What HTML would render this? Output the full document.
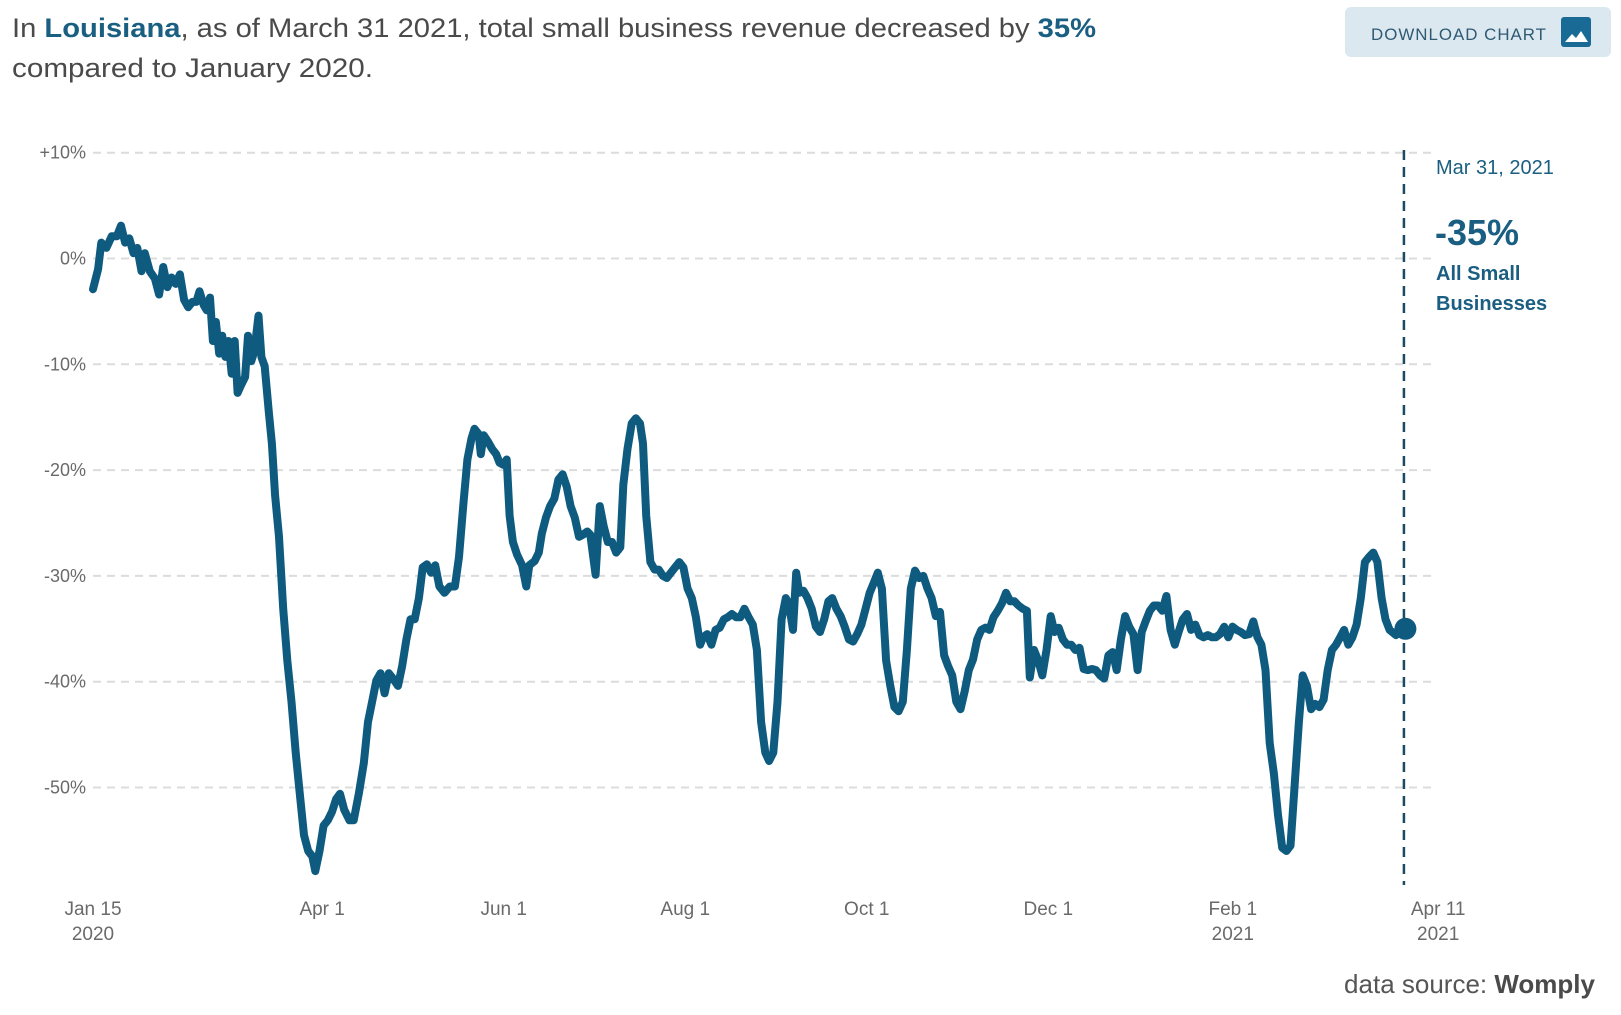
<!DOCTYPE html>
<html><head><meta charset="utf-8">
<style>
html,body{margin:0;padding:0;background:#fff;}
svg{display:block;font-family:"Liberation Sans",sans-serif;}
</style></head>
<body>
<svg id="chart" width="1621" height="1015" viewBox="0 0 1621 1015">
  <text x="12" y="37" font-size="27" fill="#4a4a4a" textLength="1084" lengthAdjust="spacingAndGlyphs">In <tspan font-weight="bold" fill="#1a5f82">Louisiana</tspan>, as of March 31 2021, total small business revenue decreased by <tspan font-weight="bold" fill="#1a5f82">35%</tspan></text>
  <text x="12" y="77" font-size="27" fill="#4a4a4a" textLength="361" lengthAdjust="spacingAndGlyphs">compared to January 2020.</text>

  <g>
    <rect x="1345" y="7" width="266" height="50" rx="6" fill="#dce8f0"/>
    <text x="1371" y="40" font-size="17" fill="#2f5a73" letter-spacing="1" textLength="176" lengthAdjust="spacingAndGlyphs">DOWNLOAD CHART</text>
    <rect x="1561" y="17" width="30" height="30" rx="3" fill="#1a6a96"/>
    <path d="M1565 42 L1572 34 L1576 38 L1581 31 L1588 42 Z" fill="#fff"/>
  </g>

  <g id="grid"></g>
  <g id="yticks"></g>
  <g id="xticks"></g>
  <g id="series"></g>

  <g>
    <text x="1436" y="174" font-size="20" fill="#1a5f82">Mar 31, 2021</text>
    <text x="1435" y="245" font-size="36" font-weight="bold" fill="#1a5f82">-35%</text>
    <text x="1436" y="280" font-size="20" font-weight="bold" fill="#1a5f82">All Small</text>
    <text x="1436" y="310" font-size="20" font-weight="bold" fill="#1a5f82">Businesses</text>
  </g>

  <text x="1595" y="993" font-size="26" fill="#555" text-anchor="end">data source: <tspan font-weight="bold" fill="#4a4a4a">Womply</tspan></text>
</svg>
<script>
const dayOffsets = [0,1.7,2.8,4.5,6.3,8.0,9.4,10.8,12.2,13.6,14.9,16.3,17.4,19.1,20.8,22.2,23.6,25.0,26.4,27.8,29.2,30.6,32.0,33.4,34.7,35.8,37.2,38.2,39.3,40.3,41.3,42.4,43.4,44.5,45.5,46.6,47.6,48.6,49.7,51.1,52.1,53.2,54.2,55.6,56.6,57.7,59.1,60.1,61.2,62.5,63.9,65.3,66.7,68.1,69.5,70.9,72.3,73.7,74.7,76.1,77.5,78.9,80.3,81.7,83.0,84.4,86.2,87.6,89.3,91.0,92.4,93.8,95.2,96.6,98.0,99.4,100.8,102.5,103.9,105.3,106.7,108.1,109.5,110.8,112.2,113.6,115.0,116.4,118.1,119.9,121.6,123.0,124.4,125.8,127.2,128.2,129.6,130.3,131.3,132.7,134.1,135.5,136.6,137.9,139.0,140.0,141.1,142.5,144.2,145.6,146.6,148.4,149.8,150.8,152.2,153.6,155.0,156.4,157.8,159.2,160.5,161.9,163.3,164.7,166.1,167.1,168.9,170.3,171.6,173.0,174.4,175.8,177.2,178.2,179.6,181.0,182.4,183.8,184.8,185.9,187.3,188.7,190.1,191.5,192.8,194.2,195.6,197.0,198.4,199.8,201.2,202.6,204.0,205.0,206.4,207.8,209.2,210.6,212.0,213.3,214.7,216.1,217.5,218.9,220.3,221.7,223.1,224.5,225.9,227.2,228.6,230.0,231.4,232.8,233.8,235.2,236.3,237.3,238.7,240.1,241.5,242.9,244.3,245.7,247.1,248.4,249.8,251.2,252.6,254.0,255.4,256.8,258.2,259.6,261.0,262.3,263.7,265.1,266.5,267.9,269.3,270.7,272.1,273.5,274.8,276.2,277.6,279.0,280.4,281.8,283.2,284.6,286.0,287.3,288.7,290.1,291.5,292.9,294.3,295.7,297.1,298.5,299.9,301.2,302.6,304.0,305.4,306.8,308.2,309.6,311.0,312.4,313.8,314.8,316.2,317.6,319.0,320.4,321.8,323.1,324.5,325.9,327.3,328.7,330.1,331.5,332.9,334.3,335.7,337.0,338.4,339.8,341.2,342.6,344.0,345.4,346.8,348.2,349.6,351.0,352.4,353.7,355.1,356.5,357.9,359.3,360.7,362.1,363.5,364.8,366.2,367.6,369.0,370.4,371.8,373.2,374.6,376.0,377.3,378.7,380.1,381.5,382.9,384.3,385.7,387.1,388.5,389.9,391.3,392.6,394.0,395.4,396.8,398.2,399.6,401.0,402.4,403.8,405.2,406.5,407.9,409.3,410.7,412.1,413.5,414.9,416.3,417.7,419.1,420.4,421.8,423.2,424.6,426.0,427.4,428.8,430.2,431.6,433.0,434.3,435.7,437.8,441];
const revenueChange = [-2.9,-1.0,1.5,1.0,2.1,2.1,3.1,1.5,1.9,0.5,1.0,-1.2,0.5,-1.2,-1.9,-3.4,-0.8,-2.7,-1.8,-2.4,-1.5,-3.9,-4.6,-4.1,-4.1,-3.1,-4.4,-4.9,-3.7,-7.8,-6.0,-9.0,-7.3,-9.3,-7.8,-10.9,-7.8,-12.7,-12.0,-11.2,-7.3,-9.7,-8.8,-5.4,-9.3,-10.2,-14.6,-17.5,-22.4,-26.3,-33.1,-38.0,-41.9,-46.7,-50.6,-54.5,-56.0,-56.5,-57.9,-56.0,-53.6,-53.1,-52.3,-51.1,-50.6,-52.1,-53.1,-53.1,-50.6,-47.7,-43.8,-41.9,-39.9,-39.2,-41.1,-39.2,-39.7,-40.4,-38.5,-36.0,-34.1,-34.1,-32.1,-29.2,-28.9,-29.7,-29.0,-31.0,-31.6,-31.0,-31.0,-28.2,-23.4,-19.0,-17.0,-16.1,-16.6,-18.5,-16.7,-17.3,-18.0,-18.5,-19.3,-19.5,-19.0,-24.3,-26.8,-28.0,-29.0,-31.0,-29.0,-28.6,-27.8,-26.0,-24.5,-23.4,-22.7,-20.9,-20.4,-21.6,-23.4,-24.5,-26.3,-26.1,-25.8,-26.1,-29.9,-23.4,-25.3,-26.8,-26.8,-27.8,-27.3,-21.4,-18.0,-15.6,-15.1,-15.6,-17.5,-24.3,-28.7,-29.4,-29.4,-30.0,-30.2,-29.7,-29.2,-28.7,-29.2,-31.2,-32.1,-33.9,-36.5,-35.8,-35.5,-36.5,-35.1,-34.9,-34.1,-33.9,-33.6,-33.9,-33.9,-33.1,-33.9,-34.6,-37.0,-43.8,-46.7,-47.5,-46.7,-41.9,-34.1,-32.1,-32.6,-35.1,-29.7,-31.6,-31.4,-32.1,-33.1,-34.8,-35.3,-34.1,-32.4,-32.1,-33.1,-33.8,-34.8,-36.0,-36.2,-35.5,-34.6,-33.1,-31.6,-30.7,-29.7,-31.2,-38.0,-40.4,-42.4,-42.8,-41.9,-37.0,-31.2,-29.5,-30.2,-30.0,-31.2,-32.1,-33.8,-33.4,-37.5,-38.5,-39.4,-41.9,-42.6,-40.9,-38.9,-37.9,-36.0,-35.1,-34.9,-35.1,-33.9,-33.3,-32.6,-31.6,-32.4,-32.4,-32.8,-33.1,-33.3,-39.6,-37.0,-38.0,-39.4,-37.0,-33.8,-35.3,-34.9,-36.0,-36.5,-36.5,-37.0,-36.8,-38.8,-38.9,-38.8,-38.9,-39.4,-39.7,-37.5,-37.2,-38.9,-36.0,-33.8,-34.8,-35.5,-38.9,-35.3,-34.3,-33.3,-32.8,-32.8,-33.3,-31.9,-35.1,-36.5,-35.3,-34.1,-33.6,-35.1,-34.6,-35.6,-35.8,-35.6,-35.8,-35.8,-35.5,-34.8,-35.8,-34.8,-35.1,-35.3,-35.6,-35.5,-34.3,-35.8,-36.5,-38.9,-45.8,-48.7,-52.6,-55.7,-56.0,-55.5,-49.7,-43.8,-39.4,-40.4,-42.6,-42.1,-42.4,-41.7,-38.9,-37.0,-36.5,-35.8,-35.1,-36.5,-35.8,-34.6,-32.1,-28.7,-28.2,-27.8,-28.7,-32.1,-34.1,-35.1,-35.6,-35.0];
const yTickValues = [10,0,-10,-20,-30,-40,-50];
const yTickLabels = ["+10%","0%","-10%","-20%","-30%","-40%","-50%"];
const xTickDays = [0,77,138,199,260,321,383,452];
const xTickLabels = ["Jan 15","Apr 1","Jun 1","Aug 1","Oct 1","Dec 1","Feb 1","Apr 11"];
const xTickYears = ["2020","","","","","","2021","2021"];
const markerDay = 440.5;

const NS = "http://www.w3.org/2000/svg";
const X0 = 93, PXDAY = 2.976, Y0 = 258.5, PXPCT = 10.58;
function xScale(d){ return X0 + d*PXDAY; }
function yScale(v){ return Y0 - v*PXPCT; }
function mk(tag, attrs, parent){
  const e = document.createElementNS(NS, tag);
  for (const k in attrs) e.setAttribute(k, attrs[k]);
  parent.appendChild(e); return e;
}
const grid = document.getElementById('grid');
const yt = document.getElementById('yticks');
yTickValues.forEach((v,i)=>{
  const ln = mk('line',{x1:93,x2:1432,y1:yScale(v),y2:yScale(v),stroke:'#dcdcdc','stroke-width':2,'stroke-dasharray':'8 6'},grid);
  
  
  const t = mk('text',{x:86,y:yScale(v)+6,'font-size':18,fill:'#6a6a6a','text-anchor':'end'},yt);
  t.textContent = yTickLabels[i];
  
  
});
const xt = document.getElementById('xticks');
xTickDays.forEach((d,i)=>{
  const t = mk('text',{x:xScale(d),y:915,'font-size':19,fill:'#6a6a6a','text-anchor':'middle'},xt);
  t.textContent = xTickLabels[i];
  
  
  if (xTickYears[i]) {
    const t2 = mk('text',{x:xScale(d),y:940,'font-size':19,fill:'#6a6a6a','text-anchor':'middle'},xt);
    t2.textContent = xTickYears[i];
    
    
  }
});
const s = document.getElementById('series');
const vline = mk('line',{x1:xScale(markerDay),x2:xScale(markerDay),y1:150,y2:885,stroke:'#1b4a63','stroke-width':2.5,'stroke-dasharray':'10 7'},s);


let d = '';
dayOffsets.forEach((day,i)=>{ d += (i?'L':'M') + xScale(day).toFixed(1) + ' ' + yScale(revenueChange[i]).toFixed(1); });
const path = mk('path',{d:d,fill:'none',stroke:'#0f5b80','stroke-width':8,'stroke-linejoin':'round','stroke-linecap':'round'},s);


const last = revenueChange.length-1;
const dot = mk('circle',{cx:xScale(dayOffsets[last]),cy:yScale(revenueChange[last]),r:11,fill:'#0f5b80'},s);


</script>
</body></html>
